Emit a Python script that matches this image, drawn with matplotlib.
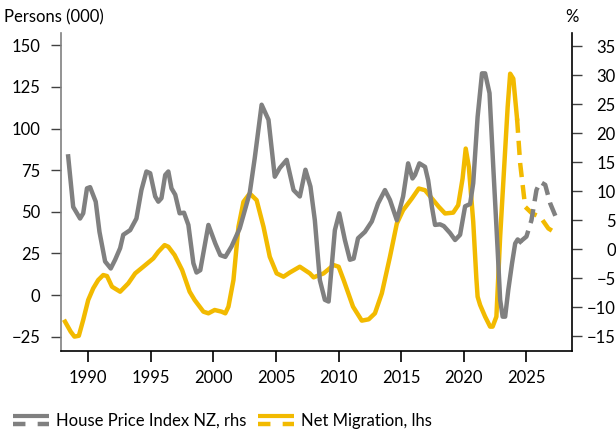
import matplotlib
matplotlib.use("Agg")
import matplotlib.pyplot as plt
from matplotlib.lines import Line2D
from matplotlib.legend_handler import HandlerBase

plt.rcParams['font.family'] = ['Lato', 'DejaVu Sans']
plt.rcParams['font.size'] = 12

GREY = '#808080'
YELLOW = '#F2BA00'

# House price index NZ, annual % change (rhs) - actual
hpi_years = [1988.4, 1988.8, 1989.35, 1989.6, 1989.9, 1990.15, 1990.6, 1990.9, 1991.35, 1991.8,
             1992.15, 1992.55, 1992.8, 1993.35, 1993.85, 1994.25, 1994.65, 1994.95, 1995.35, 1995.6,
             1995.85, 1996.15, 1996.4, 1996.65, 1996.95, 1997.3, 1997.65, 1998.0, 1998.4, 1998.65,
             1998.95, 1999.6, 2000.15, 2000.55, 2000.95, 2001.45, 2002.1, 2002.9, 2003.3, 2003.85,
             2004.4, 2004.9, 2005.3, 2005.85, 2006.4, 2006.9, 2007.35, 2007.75, 2008.1, 2008.5,
             2008.9, 2009.2, 2009.7, 2010.05, 2010.5, 2010.9, 2011.2, 2011.55, 2012.1, 2012.65,
             2013.15, 2013.7, 2014.1, 2014.65, 2015.15, 2015.55, 2015.9, 2016.1, 2016.45, 2016.9,
             2017.15, 2017.45, 2017.7, 2018.1, 2018.4, 2018.9, 2019.3, 2019.7, 2020.1, 2020.5,
             2020.75, 2021.1, 2021.45, 2021.7, 2022.05, 2022.35, 2022.7, 2022.9, 2023.1, 2023.3,
             2023.55, 2023.85, 2024.1, 2024.3, 2024.5]
hpi_values = [16.0, 7.3, 5.3, 6.2, 10.5, 10.7, 8.2, 3.0, -2.1, -3.3,
              -1.8, 0.2, 2.5, 3.3, 5.3, 10.2, 13.4, 13.1, 9.1, 8.2,
              8.8, 12.8, 13.4, 10.5, 9.4, 6.2, 6.3, 4.2, -2.4, -4.0,
              -3.6, 4.2, 1.0, -1.0, -1.3, 0.5, 3.6, 9.7, 15.7, 24.9,
              22.3, 12.5, 14.0, 15.4, 10.2, 9.1, 13.7, 10.8, 5.0, -5.3,
              -8.7, -9.0, 3.3, 6.2, 1.6, -1.8, -1.6, 1.9, 3.0, 4.8,
              7.9, 10.2, 8.5, 5.0, 9.1, 14.8, 12.2, 12.8, 14.8, 14.2,
              11.9, 7.3, 4.2, 4.3, 4.0, 2.8, 1.6, 2.5, 7.4, 7.8,
              11.4, 22.8, 30.3, 30.3, 26.9, 14.2, -0.1, -8.7, -11.6, -11.6,
              -7.0, -2.4, 1.0, 1.7, 1.3]
# forecast
hpi_fc_years = [2024.5, 2025.0, 2025.4, 2025.8, 2026.1, 2026.5, 2026.9, 2027.4]
hpi_fc_values = [1.3, 2.2, 5.0, 10.2, 11.6, 11.1, 7.9, 5.3]

# Net migration, persons (000) (lhs) - actual
mig_years = [1988.15, 1988.6, 1988.9, 1989.25, 1989.6, 1990.0, 1990.4, 1990.8, 1991.2, 1991.5,
             1991.9, 1992.55, 1993.2, 1993.75, 1994.4, 1995.2, 1995.6, 1996.1, 1996.4, 1996.9,
             1997.5, 1998.1, 1998.5, 1999.2, 1999.6, 2000.1, 2000.65, 2000.95, 2001.2, 2001.6,
             2002.0, 2002.4, 2002.9, 2003.45, 2004.0, 2004.5, 2005.05, 2005.6, 2006.1, 2006.9,
             2007.7, 2008.0, 2008.8, 2009.6, 2010.0, 2010.4, 2011.15, 2011.85, 2012.4, 2012.9,
             2013.45, 2014.1, 2014.65, 2015.15, 2015.85, 2016.4, 2016.9, 2017.45, 2018.0, 2018.5,
             2019.15, 2019.55, 2019.9, 2020.15, 2020.4, 2020.75, 2021.0, 2021.1, 2021.3, 2021.7,
             2022.1, 2022.3, 2022.6, 2022.9, 2023.3, 2023.5, 2023.7, 2023.95, 2024.25]
mig_values = [-16, -22, -25, -24.5, -15, -3, 4, 9, 12, 11.4,
              5, 2, 7, 13, 17, 22, 26, 30, 29, 24,
              15, 2, -3, -10, -11, -9, -10, -11, -7, 9,
              41, 56, 61, 57, 41, 23, 13, 11, 13.5, 17,
              13, 10.6, 13, 18, 17, 9, -7, -15.4, -14.6, -11,
              1, 23, 43, 51, 58, 64, 63, 58, 53, 49,
              49.5, 54, 70, 88, 77, 44, 10, -1, -6, -13,
              -19, -19, -13, 35, 87, 113, 133, 130, 106]
# forecast
mig_fc_years = [2024.25, 2024.5, 2024.9, 2025.45, 2026.1, 2026.75, 2027.4]
mig_fc_values = [106, 79, 53, 49, 47, 40, 37]

x_ticks = [1990, 1995, 2000, 2005, 2010, 2015, 2020, 2025]
left_ticks = [-25, 0, 25, 50, 75, 100, 125, 150]
right_ticks = [-15, -10, -5, 0, 5, 10, 15, 20, 25, 30, 35]

LW = 3.2
DASH = (3.2, 1.8)


class SolidDashHandler(HandlerBase):
    # legend key: solid line on top, dashed line below
    def create_artists(self, legend, orig_handle, xdescent, ydescent,
                       width, height, fontsize, trans):
        color = orig_handle.get_color()
        x0, x1 = -xdescent, width - xdescent
        top = Line2D([x0, x1], [height * 0.85 - ydescent] * 2, color=color,
                     lw=3.0, solid_capstyle='butt', transform=trans)
        bot = Line2D([x0, x1], [height * 0.15 - ydescent] * 2, color=color,
                     lw=3.2, dashes=(2.8, 2.75), dash_capstyle='butt', transform=trans)
        return [top, bot]


fig = plt.figure(figsize=(6.16, 4.33), dpi=100)
ax1 = fig.add_axes([0.0997, 0.1905, 0.8289, 0.7333])
ax2 = ax1.twinx()

ax1.plot(mig_years, mig_values, color=YELLOW, lw=LW, solid_joinstyle='round')
ax1.plot(mig_fc_years, mig_fc_values, color=YELLOW, lw=LW, dashes=DASH)
ax2.plot(hpi_years, hpi_values, color=GREY, lw=LW, solid_joinstyle='round')
ax2.plot(hpi_fc_years, hpi_fc_values, color=GREY, lw=LW, dashes=DASH)

ax1.set_xlim(1987.86, 2028.64)
ax1.set_ylim(-33.35, 157.45)
ax2.set_ylim(-17.43, 37.25)
ax1.set_xticks(x_ticks)
ax1.set_yticks(left_ticks)
ax2.set_yticks(right_ticks)

for ax in (ax1, ax2):
    ax.spines['top'].set_visible(False)
ax1.spines['right'].set_visible(False)
ax2.spines['left'].set_visible(False)
ax2.spines['bottom'].set_visible(False)
ax1.spines['left'].set_color(GREY)
ax1.spines['left'].set_linewidth(1.2)
ax1.spines['bottom'].set_color('black')
ax1.spines['bottom'].set_linewidth(1.2)
ax2.spines['right'].set_color('black')
ax2.spines['right'].set_linewidth(1.2)

ax1.tick_params(axis='x', direction='out', length=8, width=1.2, pad=6, labelsize=12)
ax1.tick_params(axis='y', direction='out', length=7.5, width=1.0, color='#404040', pad=7.5, labelsize=12)
ax2.tick_params(axis='y', direction='out', length=7.5, width=1.0, color='#404040', pad=24, labelsize=12)
plt.setp(ax2.get_yticklabels(), ha='right')

fig.text(0.006, 0.961, 'Persons (000)', ha='left', va='center', fontsize=12)
fig.text(0.929, 0.961, '%', ha='center', va='center', fontsize=12)

h1 = Line2D([], [], color=GREY)
h2 = Line2D([], [], color=YELLOW)
fig.legend([h1, h2], ['House Price Index NZ, rhs', 'Net Migration, lhs'],
           handler_map={Line2D: SolidDashHandler()},
           loc='center left', bbox_to_anchor=(0.0206, 0.028), frameon=False,
           ncol=2, handlelength=2.2, handleheight=0.6, handletextpad=0.4,
           columnspacing=0.68, borderaxespad=0, borderpad=0, fontsize=12)

fig.savefig('out.png', dpi=100)
